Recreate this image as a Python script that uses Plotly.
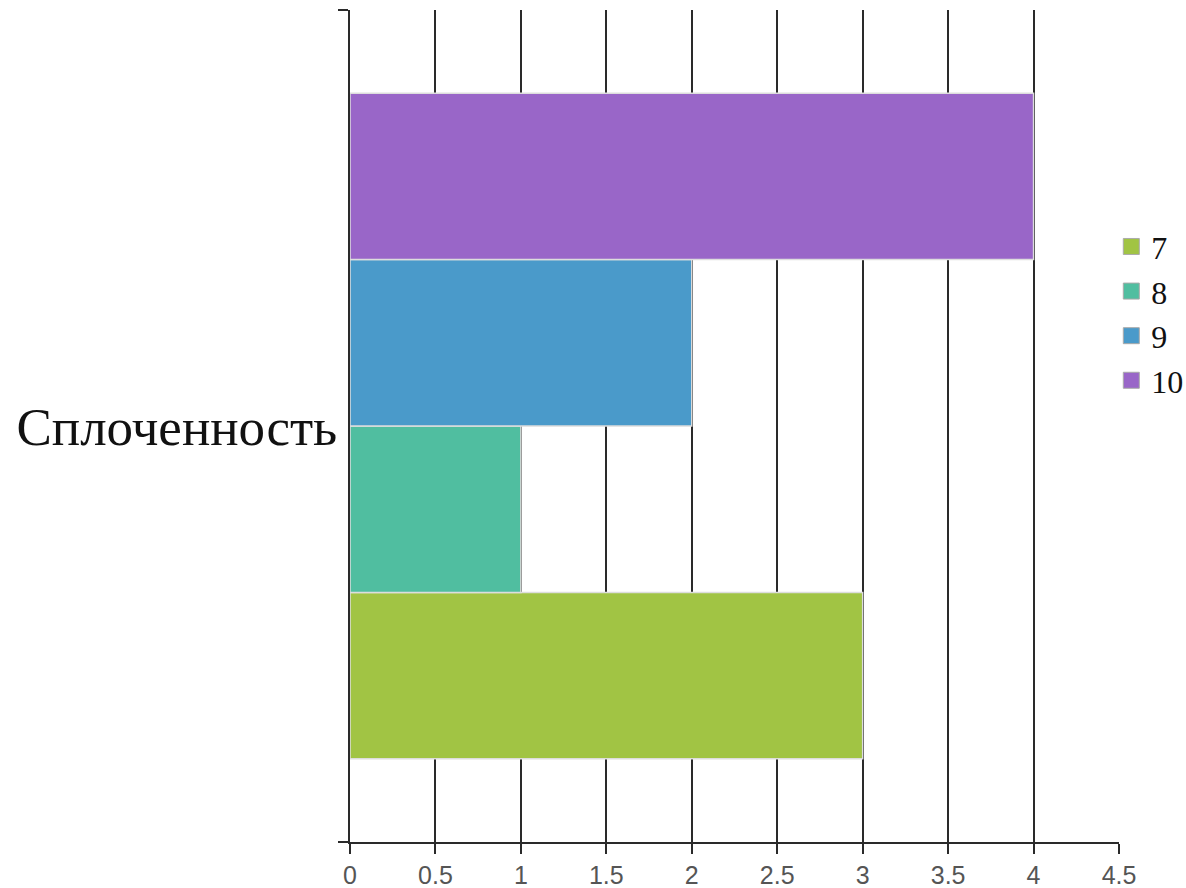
import plotly.graph_objects as go

category = ["Сплоченность"]
series_names = ["7", "8", "9", "10"]
series_values = [3, 1, 2, 4]
series_colors = ["#a1c444", "#50bea0", "#4a9aca", "#9966c8"]

fig = go.Figure()
for name, val, color in zip(series_names, series_values, series_colors):
    fig.add_trace(go.Bar(
        y=category, x=[val], name=name, orientation="h", showlegend=False,
        marker=dict(color=color, line=dict(color="#dddddd", width=1.5)),
    ))

# legend entries with larger square swatches
for name, color in zip(series_names, series_colors):
    fig.add_trace(go.Scatter(
        x=[None], y=[None], name=name, mode="markers",
        marker=dict(symbol="square", size=16, color=color,
                    line=dict(color="#aaaaaa", width=1)),
    ))

fig.update_layout(
    width=1186, height=888,
    barmode="group", bargap=0.2, bargroupgap=0,
    plot_bgcolor="white", paper_bgcolor="white",
    margin=dict(l=350, r=67, t=10, b=46, autoexpand=False),
    legend=dict(
        x=0.99, y=0.635, xanchor="left", yanchor="middle",
        font=dict(family="Liberation Serif", size=32, color="#111"),
        itemwidth=30, tracegroupgap=0, bgcolor="rgba(0,0,0,0)",
    ),
    xaxis=dict(
        range=[0, 4.5], dtick=0.5, tick0=0,
        showgrid=True, gridcolor="#2a2a2a", gridwidth=2.2,
        showline=True, linecolor="#2a2a2a", linewidth=2.2,
        ticks="outside", ticklen=10, tickwidth=2.2, tickcolor="#2a2a2a",
        tickfont=dict(family="Liberation Sans", size=25, color="#555"),
        zeroline=False,
    ),
    yaxis=dict(
        type="category", tickson="boundaries",
        showgrid=False, showline=True, linecolor="#2a2a2a", linewidth=2.2,
        ticks="outside", ticklen=10, tickwidth=2.2, tickcolor="#2a2a2a",
        tickfont=dict(family="Liberation Serif", size=53, color="#111"),
        zeroline=False,
    ),
)

fig.write_html("out.html")
